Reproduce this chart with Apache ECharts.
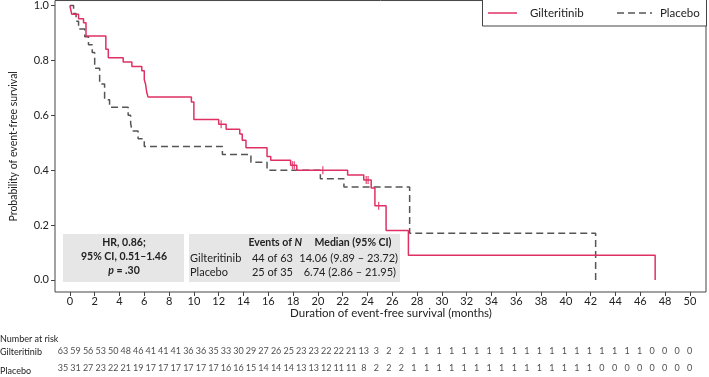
<!DOCTYPE html>
<html><head><meta charset="utf-8">
<script src="https://cdn.jsdelivr.net/npm/echarts@6/dist/echarts.min.js"></script>
<style>html,body{margin:0;padding:0;background:#fff}#c{width:709px;height:377px}</style>
</head><body><div id="c"></div>
<script>
const seriesNames = ['Gilteritinib', 'Placebo'];
const giltCurve = [[0,1],[0.15,0.968],[0.7,0.952],[1.1,0.937],[1.3,0.889],[2.9,0.841],[3.1,0.810],[4.3,0.794],[5.0,0.778],[5.8,0.762],[6.0,0.730],[6.1,0.714],[6.2,0.683],[6.3,0.667],[9.8,0.648],[10.0,0.585],[12.0,0.567],[12.6,0.549],[13.7,0.532],[13.9,0.509],[14.2,0.482],[15.9,0.450],[16.2,0.436],[17.8,0.418],[18.3,0.400],[22.4,0.382],[23.7,0.364],[24.3,0.335],[24.6,0.270],[25.5,0.180],[27.3,0.090],[47.2,0]];
const giltCensor = [[12.2,0.567],[17.95,0.418],[18.1,0.418],[20.4,0.400],[23.9,0.364],[24.05,0.364],[24.9,0.270]];
const placeboCurve = [[0,1],[0.3,0.971],[0.5,0.943],[0.7,0.914],[1.2,0.886],[1.5,0.857],[1.8,0.829],[2.0,0.771],[2.4,0.714],[2.8,0.657],[3.2,0.629],[4.7,0.600],[4.9,0.571],[5.0,0.543],[5.5,0.514],[6.0,0.486],[12.3,0.457],[14.6,0.429],[15.9,0.400],[20.2,0.369],[22.1,0.339],[27.4,0.170],[42.4,0]];
const xTicks = [0,2,4,6,8,10,12,14,16,18,20,22,24,26,28,30,32,34,36,38,40,42,44,46,48,50];
const yTicks = [0,0.2,0.4,0.6,0.8,1.0];
const riskMonths = Array.from({length:51},(_,i)=>i);
const giltRisk = [63,59,56,53,50,48,46,41,41,41,36,36,35,33,30,29,27,26,25,23,23,22,22,21,13,3,2,2,1,1,1,1,1,1,1,1,1,1,1,1,1,1,1,1,1,1,1,0,0,0,0];
const placeboRisk = [35,31,27,23,22,21,19,17,17,17,17,17,17,16,16,15,14,14,14,13,13,12,11,11,8,2,2,2,1,1,1,1,1,1,1,1,1,1,1,1,1,1,1,0,0,0,0,0,0,0,0];

const RED = '#df3064', GREY = '#555555', FONT = 'Lato, "Open Sans", sans-serif', TXT = '#222';
const chart = echarts.init(document.getElementById('c'));
const riskData = [];
riskMonths.forEach((m,i)=>{ riskData.push([m,'Gilteritinib',giltRisk[i]]); riskData.push([m,'Placebo',placeboRisk[i]]); });

chart.setOption({
  animation:false,
  textStyle:{fontFamily:FONT,color:TXT},
  grid:[
    {left:48,right:3,top:0,bottom:85,show:true,borderColor:'#444',borderWidth:1,backgroundColor:'transparent'},
    {left:48,right:3,top:343,height:38,show:false}
  ],
  xAxis:[
    {type:'value',gridIndex:0,min:-1.2,max:51.3,splitLine:{show:false},axisLine:{show:false,onZero:false},
     axisTick:{show:true,length:4,inside:false,customValues:xTicks,lineStyle:{color:'#444'}},
     axisLabel:{customValues:xTicks,fontSize:11,color:TXT,margin:4,fontFamily:FONT}},
    {type:'value',gridIndex:1,min:-1.2,max:51.3,show:false}
  ],
  yAxis:[
    {type:'value',gridIndex:0,min:-0.044,max:1.018,splitLine:{show:false},axisLine:{show:false,onZero:false},
     axisTick:{show:true,length:4,customValues:yTicks,lineStyle:{color:'#444'}},
     axisLabel:{customValues:yTicks,fontSize:11,color:TXT,margin:6,fontFamily:FONT,formatter:v=>v.toFixed(1)},
     name:'Probability of event-free survival',nameLocation:'middle',nameGap:36,
     nameTextStyle:{fontSize:10.5,color:TXT,fontFamily:FONT}},
    {type:'category',gridIndex:1,data:seriesNames,inverse:true,show:false}
  ],
  graphic:[
    {type:'rect',shape:{x:482.5,y:-1,width:224,height:27},style:{fill:'#fff',stroke:'#444',lineWidth:1},z:0},
    {type:'line',shape:{x1:488,y1:13,x2:517,y2:13},style:{stroke:RED,lineWidth:1.5},z:1},
    {type:'text',x:530,y:13,style:{text:'Gilteritinib',font:'11.5px '+FONT,fill:TXT,align:'left',verticalAlign:'middle'},z:1},
    {type:'line',shape:{x1:617,y1:13,x2:652,y2:13},style:{stroke:GREY,lineWidth:1.5,lineDash:[7,4]},z:1},
    {type:'text',x:660,y:13,style:{text:'Placebo',font:'11.5px '+FONT,fill:TXT,align:'left',verticalAlign:'middle'},z:1},
    {type:'rect',shape:{x:63,y:234,width:121,height:48},style:{fill:'#e6e6e6'},z:-1},
    {type:'rect',shape:{x:189,y:234,width:211,height:48},style:{fill:'#e6e6e6'},z:-1},
    {type:'text',x:124,y:243,style:{text:'HR, 0.86;',font:'bold 10.5px '+FONT,fill:TXT,align:'center',verticalAlign:'middle'}},
    {type:'text',x:124,y:257,style:{text:'95% CI, 0.51–1.46',font:'bold 10.5px '+FONT,fill:TXT,align:'center',verticalAlign:'middle'}},
    {type:'text',x:124,y:271,style:{text:'{i|p} = .30',font:'bold 10.5px '+FONT,fill:TXT,align:'center',verticalAlign:'middle',
      rich:{i:{fontStyle:'italic',fontWeight:'bold',fontSize:10.5,fontFamily:FONT}}}},
    {type:'text',x:302,y:243,style:{text:'Events of {i|N}',font:'bold 10.5px '+FONT,fill:TXT,align:'right',verticalAlign:'middle',
      rich:{i:{fontStyle:'italic',fontWeight:'bold',fontSize:10.5,fontFamily:FONT}}}},
    {type:'text',x:353,y:243,style:{text:'Median (95% CI)',font:'bold 10.5px '+FONT,fill:TXT,align:'center',verticalAlign:'middle'}},
    {type:'text',x:190,y:258,style:{text:'Gilteritinib',font:'11px '+FONT,fill:TXT,align:'left',verticalAlign:'middle'}},
    {type:'text',x:190,y:272,style:{text:'Placebo',font:'11px '+FONT,fill:TXT,align:'left',verticalAlign:'middle'}},
    {type:'text',x:293,y:258,style:{text:'44 of 63',font:'11px '+FONT,fill:TXT,align:'right',verticalAlign:'middle'}},
    {type:'text',x:293,y:272,style:{text:'25 of 35',font:'11px '+FONT,fill:TXT,align:'right',verticalAlign:'middle'}},
    {type:'text',x:398,y:258,style:{text:'14.06 (9.89 – 23.72)',font:'11px '+FONT,fill:TXT,align:'right',verticalAlign:'middle'}},
    {type:'text',x:396,y:272,style:{text:'6.74 (2.86 – 21.95)',font:'11px '+FONT,fill:TXT,align:'right',verticalAlign:'middle'}},
    {type:'text',x:391,y:313,style:{text:'Duration of event-free survival (months)',font:'11.5px '+FONT,fill:TXT,align:'center',verticalAlign:'middle'}},
    {type:'text',x:0,y:339,style:{text:'Number at risk',font:'9px '+FONT,fill:TXT,align:'left',verticalAlign:'middle'}},
    {type:'text',x:0,y:352,style:{text:'Gilteritinib',font:'9px '+FONT,fill:TXT,align:'left',verticalAlign:'middle'}},
    {type:'text',x:0,y:371,style:{text:'Placebo',font:'9px '+FONT,fill:TXT,align:'left',verticalAlign:'middle'}}
  ],
  series:[
    {name:'Gilteritinib',type:'line',step:'end',data:giltCurve,symbol:'none',xAxisIndex:0,yAxisIndex:0,
     lineStyle:{color:RED,width:1.5},itemStyle:{color:RED},z:4},
    {name:'Placebo',type:'line',step:'end',data:placeboCurve,symbol:'none',xAxisIndex:0,yAxisIndex:0,
     lineStyle:{color:GREY,width:1.5,type:[7,4]},itemStyle:{color:GREY},z:3},
    {name:'censor',type:'scatter',data:giltCensor,symbol:'rect',symbolSize:[1.3,8],xAxisIndex:0,yAxisIndex:0,
     itemStyle:{color:RED},z:5},
    {name:'risk',type:'scatter',data:riskData,xAxisIndex:1,yAxisIndex:1,symbolSize:1,itemStyle:{color:'rgba(0,0,0,0)'},
     label:{show:true,position:'inside',formatter:p=>String(p.value[2]),fontSize:9,color:TXT,fontFamily:FONT}}
  ]
});
</script></body></html>
